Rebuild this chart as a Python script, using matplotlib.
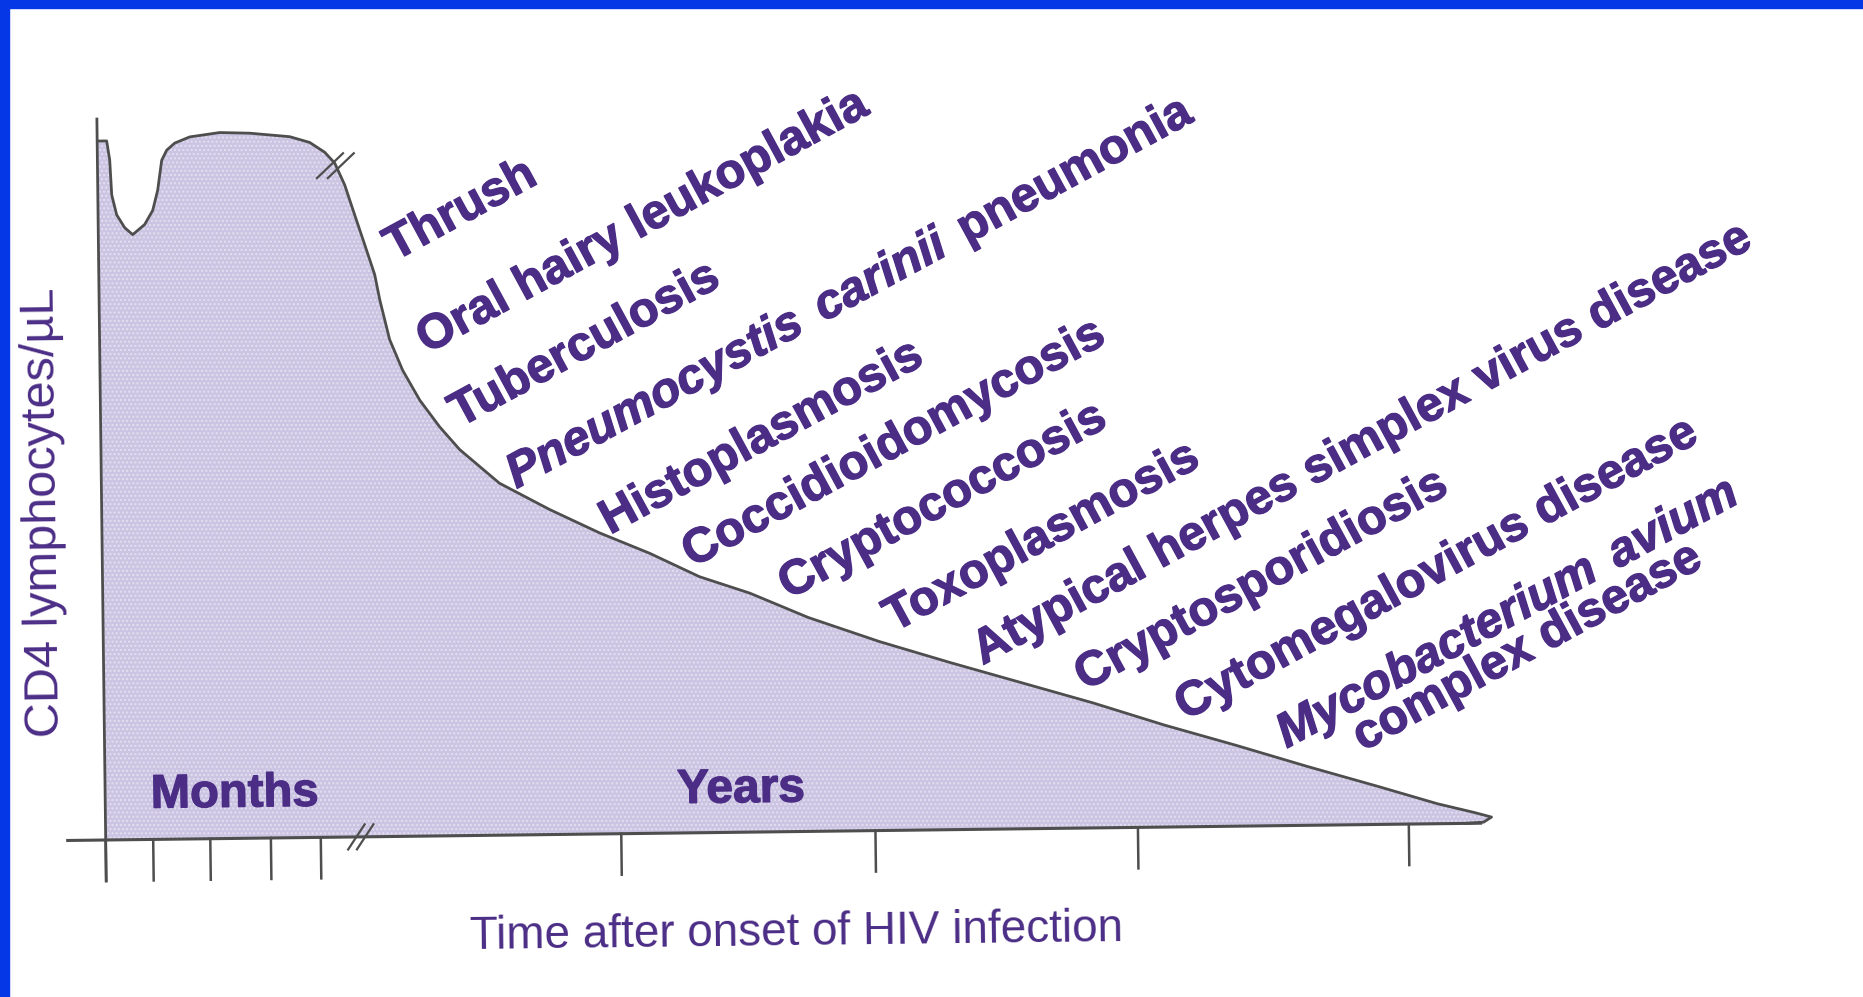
import matplotlib
matplotlib.use("Agg")
import matplotlib.pyplot as plt
import matplotlib.patheffects as pe
from matplotlib.transforms import Affine2D, IdentityTransform
from matplotlib.patches import Rectangle
from matplotlib.font_manager import FontProperties
import numpy as np

# CD4 curve (time along the axis, CD4 level above the axis)
time = [1, 9.5, 12.3, 13.9, 18.6, 26.5, 34.4, 46.5, 54.7, 59.9, 64.3, 69.4, 77.5,
        92.6, 122.6, 152.6, 192.6, 212.5, 227.4, 237.3, 247, 256.6, 266.3, 275.9,
        280.6, 290, 302.7, 319.4, 339, 358.8, 398, 448, 497.7, 547.5, 597, 647,
        705, 776, 847, 918, 989, 1060, 1131, 1202, 1273, 1332, 1368, 1386, 1378, 1360]
cd4 = [699, 699, 680, 645, 625, 612, 605, 615, 629, 649, 679, 689, 696,
       702, 706, 705, 701, 695, 685, 674, 652, 622, 592, 562,
       537, 497, 466, 436, 409, 386, 352, 325, 301, 280, 256, 239,
       214, 189, 167, 146, 125, 102, 81, 59, 38, 20, 11, 6, 1, 0]

month_ticks = [0, 47.5, 104.6, 165.2, 215.1]
year_ticks = [515.6, 769.8, 1032.3, 1303.2]

# opportunistic infections, each split in (text, italic) parts
labels = [
    [("Thrush", False)],
    [("Oral hairy leukoplakia", False)],
    [("Tuberculosis", False)],
    [("Pneumocystis", True), ("carinii", True), ("pneumonia", False)],
    [("Histoplasmosis", False)],
    [("Coccidioidomycosis", False)],
    [("Cryptococcosis", False)],
    [("Toxoplasmosis", False)],
    [("Atypical herpes simplex virus disease", False)],
    [("Cryptosporidiosis", False)],
    [("Cytomegalovirus disease", False)],
    [("Mycobacterium", True), ("avium", True)],
    [("complex disease", False)],
]
label_time = [296, 327, 359, 415, 508, 590, 686, 791, 879, 981, 1081, 1182, 1258]
label_cd4 = [575, 482, 408, 346, 299, 265, 232, 198, 164, 137, 106, 77, 73]

purple = "#4b2d86"
fill_col = "#cbc4e2"
line_col = "#4e4e4e"
sans = ["Liberation Sans", "DejaVu Sans"]
thick = [pe.withStroke(linewidth=0.9, foreground=purple)]

fig = plt.figure(figsize=(18.63, 9.97), dpi=100)
fig.patch.set_facecolor("white")
ax = fig.add_axes([0, 0, 1, 1])
ax.set_xlim(-105.7, 1863 - 105.7)
ax.set_ylim(-(997 - 840), 840)
ax.set_autoscale_on(False)
ax.axis("off")

# the scanned figure is turned slightly anticlockwise
tilt = 0.7
trans = ax.transData + Affine2D().rotate_deg_around(105.7, 997 - 840, tilt)

ax.fill(time + [1], cd4 + [0], color=fill_col, lw=0, transform=trans, zorder=1)
ax.fill(time + [1], cd4 + [0], facecolor="none", edgecolor="#e4e0f0", hatch="....",
        lw=0, transform=trans, zorder=1.5)
ax.plot(time, cd4, color=line_col, lw=2.0, transform=trans, zorder=3,
        solid_joinstyle="round")

# axes
ax.plot([0, 0], [-41, 721], color=line_col, lw=2.0, transform=trans, zorder=4)
ax.plot([-38, 1375], [0, 0], color=line_col, lw=2.2, transform=trans, zorder=4)
for t in month_ticks + year_ticks:
    ax.plot([t, t], [0, -41], color=line_col, lw=1.8, transform=trans, zorder=4)

# break marks
for c in [(232.5, 671.5), (243.3, 671.4)]:
    d = 18 * np.array([np.cos(np.radians(43)), np.sin(np.radians(43))])
    ax.plot([c[0] - d[0], c[0] + d[0]], [c[1] - d[1], c[1] + d[1]],
            color=line_col, lw=1.6, transform=trans, zorder=5)
for c in [(250.7, 0), (259.5, 0)]:
    d = 15 * np.array([np.cos(np.radians(56)), np.sin(np.radians(56))])
    ax.plot([c[0] - d[0], c[0] + d[0]], [c[1] - d[1], c[1] + d[1]],
            color=line_col, lw=1.6, transform=trans, zorder=5)

# disease labels
ang = 28.5
ca, sa = np.cos(np.radians(ang)), np.sin(np.radians(ang))
renderer = fig.canvas.get_renderer()
fsize = 35
gap = 20
for parts, t0, c0 in zip(labels, label_time, label_cd4):
    x, y = trans.transform((t0, c0))
    for txt, ital in parts:
        fp = FontProperties(family=sans, weight="bold",
                            style="italic" if ital else "normal", size=fsize)
        ax.text(x, y, txt, fontproperties=fp, color=purple, rotation=ang,
                rotation_mode="anchor", ha="left", va="baseline",
                transform=IdentityTransform(), zorder=6, path_effects=thick)
        w, h, dsc = renderer.get_text_width_height_descent(txt, fp, ismath=False)
        x += (w + gap) * ca
        y += (w + gap) * sa

ax.text(45.6, 31.7, "Months", fontsize=34, fontweight="bold", color=purple,
        family=sans, rotation=tilt, rotation_mode="anchor", ha="left",
        va="baseline", transform=trans, zorder=6, path_effects=thick)
ax.text(571.9, 30, "Years", fontsize=34.5, fontweight="bold", color=purple,
        family=sans, rotation=tilt, rotation_mode="anchor", ha="left",
        va="baseline", transform=trans, zorder=6, path_effects=thick)

ax.text(-58, 328, "CD4 lymphocytes/\u00b5L", fontsize=35, color=purple,
        family=sans, rotation=90 + tilt, rotation_mode="anchor", ha="center",
        va="center", transform=trans, zorder=6)
ax.text(690, -101, "Time after onset of HIV infection", fontsize=33,
        color=purple, family=sans, rotation=tilt,
        rotation_mode="anchor", ha="center", va="center", transform=trans,
        zorder=6)

# blue frame of the slide
fig.patches.append(Rectangle((0, 1 - 8 / 997), 1, 8 / 997, transform=fig.transFigure,
                             color="#0637e6", zorder=10))
fig.patches.append(Rectangle((0, 0), 9 / 1863, 1, transform=fig.transFigure,
                             color="#0637e6", zorder=10))

fig.savefig("out.png", dpi=100, facecolor="white")
